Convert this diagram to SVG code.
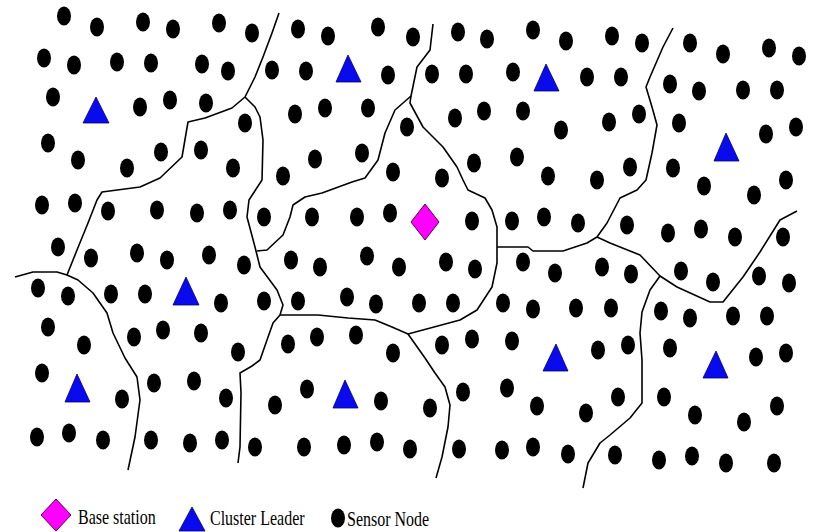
<svg xmlns="http://www.w3.org/2000/svg" width="815" height="532" viewBox="0 0 815 532">
<style>
.d{fill:#000}
.cl{fill:#0a0aee;stroke:#00006a;stroke-width:0.8}
.bs{fill:#ff00ff;stroke:#5a005a;stroke-width:1}
.b{fill:none;stroke:#000;stroke-width:1.6;stroke-linejoin:round}
.t{font-family:"Liberation Serif","Times New Roman",serif;font-size:16px;fill:#000}
</style>
<defs>
<ellipse id="s" cx="0" cy="0" rx="7" ry="9.5"/>
</defs>
<rect width="815" height="532" fill="#fff"/>
<g id="boundaries">
<polyline class="b" points="279,13 272,33 263,57 255,77 245,97 232,108 205,118 188,122 182,157 160,178 140,187 102,192 97,200 88,223 77,250 67,275 57,272 33,272 15,277"/>
<polyline class="b" points="67,275 78,280 93,293 107,313 113,333 125,358 137,377 140,400 135,437 128,470"/>
<polyline class="b" points="245,97 255,107 260,117 263,140 262,180 249,200 247,217 255,247 260,267 277,290 283,305 280,315 273,323 267,340 260,360 252,366 240,373 241,393 240,447 238,463"/>
<polyline class="b" points="257,251 267,250 283,235 290,217 293,205 305,197 322,193 352,182 365,178 378,160 385,133 395,110 411,96 417,67 430,50 433,24"/>
<polyline class="b" points="411,96 410,103 423,127 443,147 457,167 463,180 468,190 485,198 492,210 497,227 497,247 497,263 492,287 477,310 460,320 408,334 392,327 375,320 348,318 318,315 292,315 280,315"/>
<polyline class="b" points="408,334 425,358 435,373 445,387 450,405 448,427 442,457 436,478"/>
<polyline class="b" points="497,247 528,247 533,251 563,251 587,243 597,237 607,223 620,198 637,190 646,180 652,153 657,125 652,107 646,87 650,77 663,47 673,28"/>
<polyline class="b" points="597,237 610,243 640,255 660,276 677,287 710,302 723,302 743,277 760,252 780,220 797,211"/>
<polyline class="b" points="660,276 650,290 642,312 640,333 642,360 642,403 630,418 610,435 600,443 588,463 583,488"/>
</g>
<g id="sensor-nodes" class="d">
<use href="#s" x="64" y="16"/><use href="#s" x="97" y="27"/><use href="#s" x="143" y="22"/><use href="#s" x="173" y="29"/><use href="#s" x="219" y="23"/><use href="#s" x="252" y="33"/><use href="#s" x="298" y="29"/><use href="#s" x="328" y="36"/><use href="#s" x="378" y="27"/><use href="#s" x="413" y="37"/><use href="#s" x="458" y="32"/><use href="#s" x="487" y="39"/><use href="#s" x="533" y="30"/><use href="#s" x="566" y="41"/><use href="#s" x="612" y="36"/><use href="#s" x="642" y="43"/><use href="#s" x="690" y="43"/><use href="#s" x="723" y="54"/><use href="#s" x="769" y="48"/><use href="#s" x="799" y="56"/>
<use href="#s" x="44" y="58"/><use href="#s" x="74" y="65"/><use href="#s" x="117" y="62"/><use href="#s" x="151" y="63"/><use href="#s" x="202" y="64"/><use href="#s" x="228" y="71"/><use href="#s" x="272" y="70"/><use href="#s" x="306" y="71"/><use href="#s" x="388" y="75"/><use href="#s" x="432" y="74"/><use href="#s" x="466" y="74"/><use href="#s" x="513" y="72"/><use href="#s" x="587" y="77"/><use href="#s" x="621" y="77"/><use href="#s" x="670" y="84"/><use href="#s" x="699" y="91"/><use href="#s" x="743" y="90"/><use href="#s" x="777" y="90"/>
<use href="#s" x="53" y="97"/><use href="#s" x="140" y="107"/><use href="#s" x="170" y="100"/><use href="#s" x="206" y="103"/><use href="#s" x="245" y="123"/><use href="#s" x="295" y="114"/><use href="#s" x="325" y="108"/><use href="#s" x="368" y="108"/><use href="#s" x="407" y="127"/><use href="#s" x="455" y="118"/><use href="#s" x="484" y="111"/><use href="#s" x="523" y="111"/><use href="#s" x="561" y="130"/><use href="#s" x="609" y="122"/><use href="#s" x="639" y="114"/><use href="#s" x="679" y="123"/><use href="#s" x="766" y="134"/><use href="#s" x="796" y="127"/>
<use href="#s" x="48" y="143"/><use href="#s" x="78" y="160"/><use href="#s" x="127" y="168"/><use href="#s" x="161" y="152"/><use href="#s" x="201" y="150"/><use href="#s" x="233" y="168"/><use href="#s" x="283" y="176"/><use href="#s" x="315" y="159"/><use href="#s" x="362" y="153"/><use href="#s" x="393" y="172"/><use href="#s" x="442" y="178"/><use href="#s" x="474" y="163"/><use href="#s" x="517" y="157"/><use href="#s" x="548" y="176"/><use href="#s" x="597" y="180"/><use href="#s" x="630" y="167"/><use href="#s" x="673" y="168"/><use href="#s" x="704" y="186"/><use href="#s" x="786" y="180"/>
<use href="#s" x="754" y="195"/><use href="#s" x="42" y="205"/><use href="#s" x="75" y="203"/><use href="#s" x="108" y="211"/><use href="#s" x="157" y="210"/><use href="#s" x="197" y="213"/><use href="#s" x="230" y="210"/><use href="#s" x="264" y="217"/><use href="#s" x="312" y="217"/><use href="#s" x="357" y="217"/><use href="#s" x="390" y="213"/><use href="#s" x="472" y="221"/><use href="#s" x="512" y="221"/><use href="#s" x="544" y="217"/><use href="#s" x="578" y="223"/><use href="#s" x="627" y="225"/><use href="#s" x="668" y="233"/><use href="#s" x="701" y="229"/><use href="#s" x="735" y="237"/><use href="#s" x="783" y="237"/>
<use href="#s" x="58" y="247"/><use href="#s" x="91" y="258"/><use href="#s" x="137" y="253"/><use href="#s" x="167" y="260"/><use href="#s" x="209" y="255"/><use href="#s" x="244" y="265"/><use href="#s" x="291" y="260"/><use href="#s" x="320" y="267"/><use href="#s" x="367" y="256"/><use href="#s" x="399" y="267"/><use href="#s" x="446" y="262"/><use href="#s" x="475" y="269"/><use href="#s" x="523" y="262"/><use href="#s" x="555" y="273"/><use href="#s" x="602" y="267"/><use href="#s" x="631" y="274"/><use href="#s" x="681" y="271"/><use href="#s" x="713" y="282"/><use href="#s" x="759" y="276"/><use href="#s" x="789" y="283"/>
<use href="#s" x="38" y="288"/><use href="#s" x="68" y="296"/><use href="#s" x="111" y="294"/><use href="#s" x="145" y="294"/><use href="#s" x="221" y="303"/><use href="#s" x="264" y="301"/><use href="#s" x="298" y="301"/><use href="#s" x="347" y="297"/><use href="#s" x="376" y="304"/><use href="#s" x="419" y="303"/><use href="#s" x="453" y="303"/><use href="#s" x="503" y="303"/><use href="#s" x="533" y="309"/><use href="#s" x="576" y="308"/><use href="#s" x="611" y="308"/><use href="#s" x="661" y="311"/><use href="#s" x="690" y="318"/><use href="#s" x="733" y="316"/><use href="#s" x="767" y="316"/>
<use href="#s" x="48" y="327"/><use href="#s" x="84" y="345"/><use href="#s" x="134" y="337"/><use href="#s" x="163" y="330"/><use href="#s" x="201" y="333"/><use href="#s" x="238" y="352"/><use href="#s" x="288" y="344"/><use href="#s" x="317" y="337"/><use href="#s" x="356" y="335"/><use href="#s" x="393" y="353"/><use href="#s" x="442" y="345"/><use href="#s" x="472" y="339"/><use href="#s" x="512" y="341"/><use href="#s" x="598" y="350"/><use href="#s" x="628" y="345"/><use href="#s" x="670" y="348"/><use href="#s" x="756" y="357"/><use href="#s" x="786" y="353"/>
<use href="#s" x="42" y="373"/><use href="#s" x="122" y="399"/><use href="#s" x="154" y="383"/><use href="#s" x="194" y="381"/><use href="#s" x="226" y="398"/><use href="#s" x="275" y="405"/><use href="#s" x="307" y="389"/><use href="#s" x="381" y="401"/><use href="#s" x="430" y="408"/><use href="#s" x="463" y="392"/><use href="#s" x="507" y="388"/><use href="#s" x="537" y="406"/><use href="#s" x="586" y="413"/><use href="#s" x="618" y="397"/><use href="#s" x="664" y="397"/><use href="#s" x="695" y="415"/><use href="#s" x="744" y="422"/><use href="#s" x="777" y="406"/>
<use href="#s" x="37" y="437"/><use href="#s" x="69" y="433"/><use href="#s" x="103" y="440"/><use href="#s" x="151" y="440"/><use href="#s" x="190" y="443"/><use href="#s" x="222" y="440"/><use href="#s" x="255" y="447"/><use href="#s" x="304" y="447"/><use href="#s" x="344" y="445"/><use href="#s" x="377" y="442"/><use href="#s" x="410" y="449"/><use href="#s" x="459" y="449"/><use href="#s" x="502" y="450"/><use href="#s" x="533" y="447"/><use href="#s" x="568" y="454"/><use href="#s" x="615" y="455"/><use href="#s" x="659" y="460"/><use href="#s" x="692" y="456"/><use href="#s" x="726" y="463"/><use href="#s" x="774" y="463"/>
</g>
<g id="cluster-leaders" class="cl">
<polygon points="96,97 109,123 83,123"/>
<polygon points="348,55 361,82 336,82"/>
<polygon points="546,64 559,91 534,91"/>
<polygon points="726,133 739,161 714,161"/>
<polygon points="186,277 199,305 173,305"/>
<polygon points="77,374 90,402 65,402"/>
<polygon points="345,380 358,408 333,408"/>
<polygon points="556,344 568,371 543,371"/>
<polygon points="716,351 728,378 703,378"/>
</g>
<g id="base-station">
<polygon class="bs" points="425,204 439,222 425,240 411,222"/>
</g>
<g id="legend">
<polygon class="bs" points="56,499 71,515 56,531 41,515"/>
<text class="t" transform="translate(78,524) scale(1,1.3)">Base station</text>
<polygon class="cl" points="192,507 205,531 179,531"/>
<text class="t" transform="translate(210,525) scale(1,1.3)">Cluster Leader</text>
<ellipse class="d" cx="338" cy="518" rx="7" ry="9.5"/>
<text class="t" transform="translate(347,526) scale(1,1.3)" font-size="15">Sensor Node</text>
</g>
</svg>
